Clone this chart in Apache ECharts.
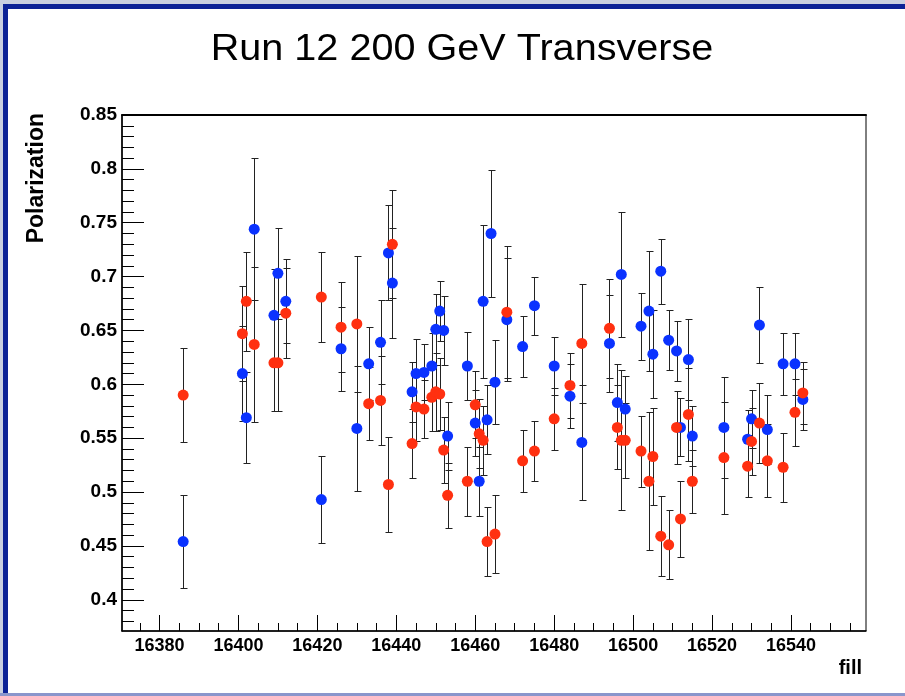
<!DOCTYPE html>
<html><head><meta charset="utf-8">
<script src="https://cdn.jsdelivr.net/npm/echarts@6/dist/echarts.min.js"></script>
<style>html,body{margin:0;padding:0;background:#fff}#c{width:905px;height:696px}</style>
</head><body><div id="c"></div>
<script>
// ---- data ----
const blueFill = [16386,16401,16402,16404,16409,16410,16412,16421,16426,16430,16433,16436,16438,16439,16444,16445,16447,16449,16450,16451,16452,16453,16458,16460,16461,16462,16463,16464,16465,16468,16472,16475,16480,16484,16487,16494,16496,16497,16498,16502,16504,16505,16507,16509,16511,16512,16514,16515,16523,16529,16530,16532,16534,16538,16541,16543];
const blueVal = [0.454,0.610,0.569,0.744,0.664,0.703,0.677,0.493,0.633,0.559,0.619,0.639,0.722,0.694,0.593,0.610,0.611,0.617,0.651,0.668,0.650,0.552,0.617,0.564,0.510,0.677,0.567,0.740,0.602,0.660,0.635,0.673,0.617,0.589,0.546,0.638,0.583,0.702,0.577,0.654,0.668,0.628,0.705,0.641,0.631,0.560,0.623,0.552,0.560,0.549,0.568,0.655,0.558,0.619,0.619,0.586];
const blueErr = [0.043,0.044,0.042,0.066,0.043,0.042,0.039,0.040,0.039,0.058,0.034,0.039,0.044,0.051,0.028,0.032,0.026,0.031,0.033,0.028,0.032,0.032,0.032,0.031,0.032,0.071,0.032,0.059,0.039,0.057,0.028,0.027,0.027,0.030,0.053,0.045,0.036,0.058,0.031,0.031,0.056,0.041,0.030,0.028,0.028,0.027,0.038,0.028,0.047,0.027,0.027,0.035,0.032,0.029,0.029,0.028];

const redFill = [16386,16401,16402,16404,16409,16410,16412,16421,16426,16430,16433,16436,16438,16439,16444,16445,16447,16449,16450,16451,16452,16453,16458,16460,16461,16462,16463,16465,16468,16472,16475,16480,16484,16487,16494,16496,16497,16498,16502,16504,16505,16507,16509,16511,16512,16514,16515,16523,16529,16530,16532,16534,16538,16541,16543];
const redVal = [0.590,0.647,0.677,0.637,0.620,0.620,0.666,0.681,0.653,0.656,0.582,0.585,0.507,0.730,0.545,0.579,0.577,0.588,0.593,0.591,0.539,0.497,0.510,0.581,0.554,0.548,0.454,0.461,0.667,0.529,0.538,0.568,0.599,0.638,0.652,0.560,0.548,0.548,0.538,0.510,0.533,0.459,0.451,0.560,0.475,0.572,0.510,0.532,0.524,0.547,0.564,0.529,0.523,0.574,0.592];
const redErr = [0.044,0.044,0.046,0.072,0.045,0.045,0.042,0.042,0.042,0.063,0.034,0.041,0.044,0.050,0.032,0.032,0.027,0.031,0.036,0.033,0.031,0.030,0.032,0.031,0.032,0.032,0.032,0.036,0.061,0.029,0.028,0.029,0.030,0.055,0.046,0.039,0.065,0.035,0.033,0.064,0.045,0.037,0.032,0.034,0.035,0.043,0.029,0.052,0.029,0.031,0.037,0.034,0.032,0.031,0.029];

const xTickLabels = [16380,16400,16420,16440,16460,16480,16500,16520,16540];
const yTickLabels = [0.4,0.45,0.5,0.55,0.6,0.65,0.7,0.75,0.8,0.85];

const titleText = 'Run 12 200 GeV Transverse';
const yTitle = 'Polarization';
const xTitle = 'fill';

// ---- build ----
const xMin = 16370.5, xMax = 16559, yMin = 0.371, yMax = 0.85;
const xMinor = []; for (let v = 16375; v <= 16555; v += 5) xMinor.push(v);
const yMinor = []; for (let k = 38; k <= 84; k++) yMinor.push(k / 100);

function pts(f, v, e) { return f.map((x, i) => [x, v[i], e[i]]); }
const bluePts = pts(blueFill, blueVal, blueErr);
const redPts = pts(redFill, redVal, redErr);

function errRender(params, api) {
  const x = api.value(0), y = api.value(1), e = api.value(2);
  const top = api.coord([x, y + e]);
  const bot = api.coord([x, y - e]);
  const cx = Math.round(top[0]) + 0.5;
  const ty = Math.round(top[1]) + 0.5, by = Math.round(bot[1]) + 0.5;
  const st = { stroke: '#222', lineWidth: 1 };
  return { type: 'group', children: [
    { type: 'line', shape: { x1: cx, y1: ty, x2: cx, y2: by }, style: st },
    { type: 'line', shape: { x1: cx - 3, y1: ty, x2: cx + 4, y2: ty }, style: st },
    { type: 'line', shape: { x1: cx - 3, y1: by, x2: cx + 4, y2: by }, style: st }
  ]};
}

const tickFont = { fontFamily: 'Liberation Sans, Arial, sans-serif', fontWeight: 'bold', fontSize: 18, color: '#000' };

const chart = echarts.init(document.getElementById('c'), null, { renderer: 'canvas' });
chart.setOption({
  animation: false,
  backgroundColor: '#fff',
  grid: { left: 122, right: 39, top: 115, bottom: 65, show: true, borderColor: '#000', borderWidth: 1, backgroundColor: '#fff' },
  xAxis: [
    { type: 'value', min: xMin, max: xMax, position: 'bottom',
      axisLine: { show: true, onZero: false, lineStyle: { color: '#000', width: 1.5 } },
      axisTick: { show: true, inside: true, length: 16, customValues: xTickLabels, lineStyle: { color: '#000', width: 1 } },
      axisLabel: Object.assign({ show: true, customValues: xTickLabels, margin: 6, formatter: v => String(v) }, tickFont),
      splitLine: { show: false } },
    { type: 'value', min: xMin, max: xMax, position: 'bottom',
      axisLine: { show: false, onZero: false },
      axisTick: { show: true, inside: true, length: 8, customValues: xMinor, lineStyle: { color: '#000', width: 1 } },
      axisLabel: { show: false }, splitLine: { show: false } },
    { type: 'value', min: xMin, max: xMax, position: 'top',
      axisLine: { show: true, onZero: false, lineStyle: { color: '#000', width: 2 } },
      axisTick: { show: false }, axisLabel: { show: false }, splitLine: { show: false } }
  ],
  yAxis: [
    { type: 'value', min: yMin, max: yMax, position: 'left',
      axisLine: { show: true, onZero: false, lineStyle: { color: '#000', width: 1.5 } },
      axisTick: { show: true, inside: true, length: 22, customValues: yTickLabels, lineStyle: { color: '#000', width: 1 } },
      axisLabel: Object.assign({ show: true, customValues: yTickLabels, margin: 5, formatter: v => String(v) }, tickFont, { fontSize: 19 }),
      splitLine: { show: false } },
    { type: 'value', min: yMin, max: yMax, position: 'left',
      axisLine: { show: false, onZero: false },
      axisTick: { show: true, inside: true, length: 12, customValues: yMinor, lineStyle: { color: '#000', width: 1 } },
      axisLabel: { show: false }, splitLine: { show: false } }
  ],
  series: [
    { type: 'custom', name: 'blueErr', renderItem: errRender, data: bluePts, encode: { x: 0, y: 1 }, z: 2, clip: false },
    { type: 'scatter', name: 'blue', data: bluePts, symbol: 'circle', symbolSize: 11, itemStyle: { color: '#0a32ff', opacity: 1 }, z: 2 },
    { type: 'custom', name: 'redErr', renderItem: errRender, data: redPts, encode: { x: 0, y: 1 }, z: 2, clip: false },
    { type: 'scatter', name: 'red', data: redPts, symbol: 'circle', symbolSize: 11, itemStyle: { color: '#ff3010', opacity: 1 }, z: 2 }
  ],
  graphic: [
    { type: 'rect', shape: { x: 0, y: 0, width: 905, height: 4 }, style: { fill: '#c9cfe0' }, z: 100, silent: true },
    { type: 'rect', shape: { x: 0, y: 4, width: 905, height: 5 }, style: { fill: '#0c2296' }, z: 100, silent: true },
    { type: 'rect', shape: { x: 0, y: 0, width: 3, height: 696 }, style: { fill: '#c9cfe0' }, z: 100, silent: true },
    { type: 'rect', shape: { x: 3, y: 4, width: 5, height: 692 }, style: { fill: '#0c2296' }, z: 100, silent: true },
    { type: 'rect', shape: { x: 0, y: 693, width: 905, height: 3 }, style: { fill: '#8a96cc' }, z: 100, silent: true },
    { type: 'text', x: 462, y: 50, scaleX: 1.1, scaleY: 1.05, originX: 0, originY: 0,
      style: { text: titleText, font: 'normal 36px "Liberation Sans", Arial, sans-serif', fill: '#000', textAlign: 'center', textVerticalAlign: 'middle' }, z: 100 },
    { type: 'text', x: 37, y: 113, rotation: Math.PI / 2,
      style: { text: yTitle, font: 'bold 23px "Liberation Sans", Arial, sans-serif', fill: '#000', textAlign: 'right', textVerticalAlign: 'middle' }, z: 100 },
    { type: 'text', x: 862, y: 668,
      style: { text: xTitle, font: 'bold 20px "Liberation Sans", Arial, sans-serif', fill: '#000', textAlign: 'right', textVerticalAlign: 'middle' }, z: 100 }
  ]
});
</script></body></html>
